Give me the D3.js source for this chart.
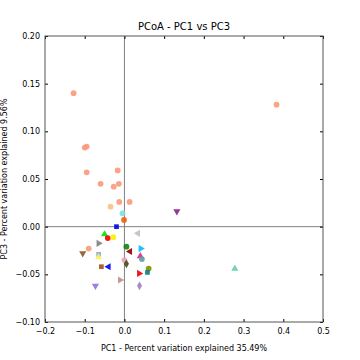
<!DOCTYPE html>
<html>
<head>
<meta charset="UTF-8">
<title>PCoA - PC1 vs PC3</title>
<style>
  body { margin: 0; background: #fff; }
  svg { display: block; font-family: "DejaVu Sans", sans-serif; }
</style>
</head>
<body>
<svg width="360" height="360"></svg>
<script src="https://d3js.org/d3.v7.min.js"></script>
<script>
// sample coordinates
const pc1 = [-0.128, -0.100, -0.095, -0.095, -0.060, -0.014, -0.027, -0.017, -0.013, 0.013,
             -0.035, -0.090, 0.383, -0.005, -0.001, -0.020, 0.034, -0.050, -0.042, -0.028,
             -0.065, 0.005, 0.014, 0.041, -0.105, -0.065, -0.065, 0.040, 0.044, 0.000,
             0.005, -0.058, -0.040, 0.061, 0.058, 0.037, -0.011, -0.073, 0.038, 0.132, 0.278];
const pc3 = [0.140, 0.083, 0.084, 0.057, 0.045, 0.045, 0.042, 0.059, 0.026, 0.026,
             0.021, -0.023, 0.128, 0.014, 0.007, 0.000, -0.007, -0.008, -0.012, -0.011,
             -0.0175, -0.021, -0.026, -0.023, -0.028, -0.029, -0.032, -0.031, -0.034, -0.035,
             -0.039, -0.042, -0.042, -0.044, -0.048, -0.049, -0.056, -0.062, -0.062, 0.016, -0.044];
const markerColors = ["#fa9a7a", "#fa9a7a", "#fa9a7a", "#fa9a7a", "#fa9a7a", "#fa9a7a", "#fa9a7a", "#fa9a7a", "#fa9a7a", "#fa9a7a",
                      "#f7c08c", "#fa9a7a", "#fa9a7a", "#80dfe8", "#e8640c", "#0000f0", "#c0c0c0", "#00e000", "#f00000", "#f8f000",
                      "#808080", "#188018", "#8b0000", "#00bfff", "#8b5a2b", "#88a8d8", "#f8f060", "#e0209a", "#5f9ea0", "#f0a0c0",
                      "#404a18", "#a0501c", "#0000f0", "#8b8b00", "#008080", "#f00000", "#bc8f8f", "#9370db", "#9d80c0", "#8b208b", "#66cdaa"];
const markerShapes = ["circle", "circle", "circle", "circle", "circle", "circle", "circle", "circle", "circle", "circle",
                      "circle", "circle", "circle", "circle", "circle", "square", "left", "up", "circle", "circle",
                      "right", "circle", "left", "right", "down", "square", "up", "up", "circle", "circle",
                      "diamond", "square", "left", "circle", "square", "right", "right", "down", "diamond", "down", "up"];

const xTicks = [-0.2, -0.1, 0.0, 0.1, 0.2, 0.3, 0.4, 0.5];
const yTicks = [-0.10, -0.05, 0.00, 0.05, 0.10, 0.15, 0.20];

const svg = d3.select("svg");
const margin = {top: 36, right: 37, bottom: 38, left: 45};
const width = 360 - margin.left - margin.right;
const height = 360 - margin.top - margin.bottom;
const g = svg.append("g").attr("transform", `translate(${margin.left},${margin.top})`);

const x = d3.scaleLinear().domain([-0.2, 0.5]).range([0, width]);
const y = d3.scaleLinear().domain([-0.10, 0.20]).range([height, 0]);

// zero lines
g.append("line").attr("x1", x(0)).attr("x2", x(0)).attr("y1", 0).attr("y2", height)
  .attr("stroke", "#808080").attr("stroke-width", 1);
g.append("line").attr("x1", 0).attr("x2", width).attr("y1", y(0)).attr("y2", y(0))
  .attr("stroke", "#808080").attr("stroke-width", 1);

// points
const shapeMap = {circle: [d3.symbolCircle, 0], square: [d3.symbolSquare, 0], diamond: [d3.symbolDiamond, 0],
                  up: [d3.symbolTriangle, 0], down: [d3.symbolTriangle, 180], left: [d3.symbolTriangle, -90], right: [d3.symbolTriangle, 90]};
g.selectAll("path.pt")
  .data(pc1.map((v, i) => i))
  .enter().append("path")
  .attr("class", "pt")
  .attr("d", i => d3.symbol().type(shapeMap[markerShapes[i]][0]).size(markerShapes[i] === "circle" ? 26 : 22)())
  .attr("transform", i => `translate(${x(pc1[i])},${y(pc3[i])}) rotate(${shapeMap[markerShapes[i]][1]})`)
  .attr("fill", i => markerColors[i])
  .attr("opacity", 0.9);

// axes, ticks inside
const tickLen = 3;
g.append("g").attr("transform", `translate(0,${height})`)
  .call(d3.axisBottom(x).tickValues(xTicks).tickFormat(d3.format(".1f")).tickSizeInner(-tickLen).tickSizeOuter(0).tickPadding(6));
g.append("g").call(d3.axisTop(x).tickValues(xTicks).tickFormat("").tickSizeInner(-tickLen).tickSizeOuter(0));
g.append("g")
  .call(d3.axisLeft(y).tickValues(yTicks).tickFormat(d3.format(".2f")).tickSizeInner(-tickLen).tickSizeOuter(0).tickPadding(5));
g.append("g").attr("transform", `translate(${width},0)`)
  .call(d3.axisRight(y).tickValues(yTicks).tickFormat("").tickSizeInner(-tickLen).tickSizeOuter(0));

g.selectAll(".tick text").attr("font-size", 8).attr("font-family", "DejaVu Sans").attr("fill", "#000");
g.selectAll(".domain").attr("stroke", "none");
g.selectAll(".tick line").attr("stroke", "#000");
g.selectAll(".tick text").text(function() { return this.textContent.replace("-", "\u2212"); });

// frame
g.append("rect").attr("width", width).attr("height", height)
  .attr("fill", "none").attr("stroke", "#555").attr("stroke-width", 1);

// titles
svg.append("text").attr("x", margin.left + width / 2).attr("y", 30)
  .attr("text-anchor", "middle").attr("font-size", 10).text("PCoA - PC1 vs PC3");
svg.append("text").attr("x", margin.left + width / 2).attr("y", 351)
  .attr("text-anchor", "middle").attr("font-size", 8).text("PC1 - Percent variation explained 35.49%");
svg.append("text").attr("transform", `translate(7,${margin.top + height / 2}) rotate(-90)`)
  .attr("text-anchor", "middle").attr("font-size", 8).text("PC3 - Percent variation explained 9.56%");
</script>
</body>
</html>
